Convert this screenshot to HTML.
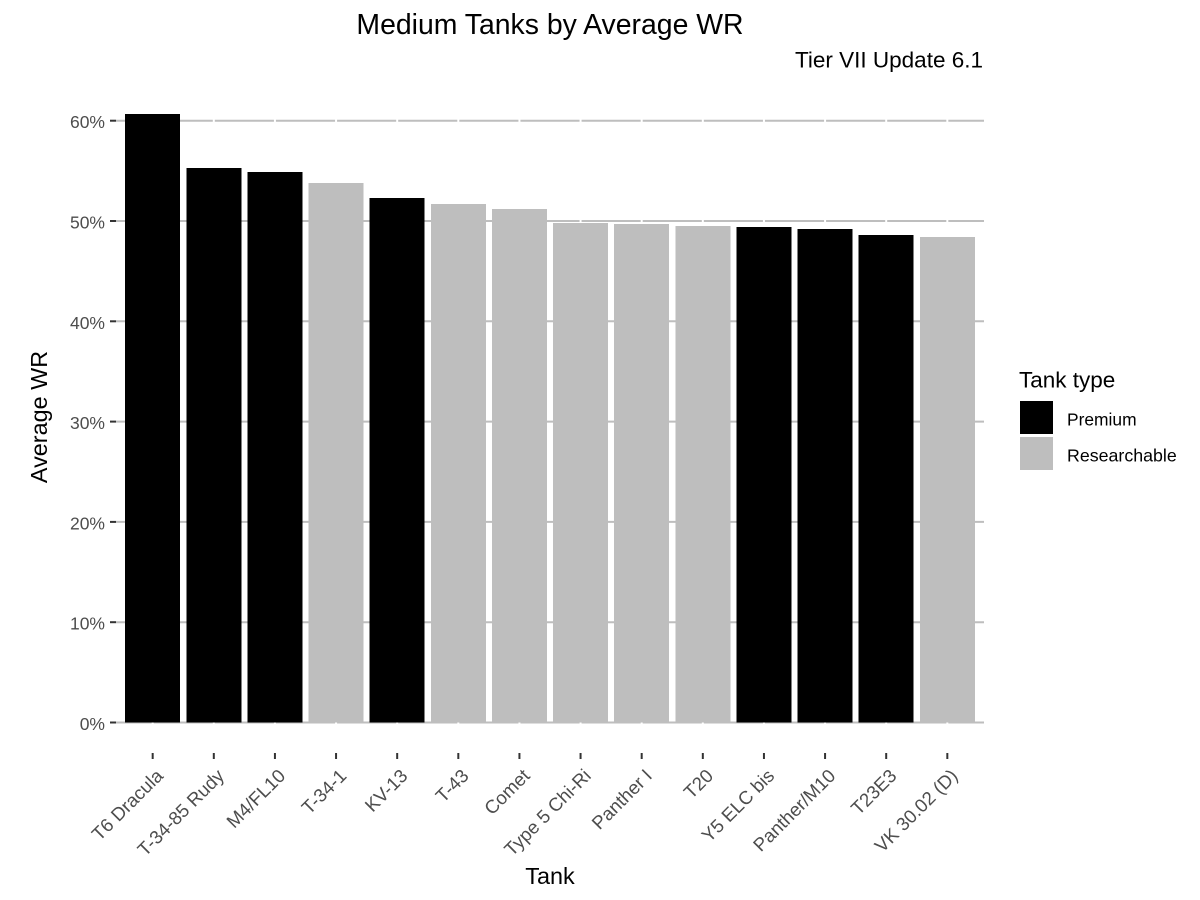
<!DOCTYPE html>
<html lang="en">
<head>
<meta charset="utf-8">
<title>Medium Tanks by Average WR</title>
<style>
  html, body { margin: 0; padding: 0; background: #fff; }
  svg { display: block; font-family: "Liberation Sans", Arial, sans-serif; }
</style>
</head>
<body>
<svg id="chart" xmlns="http://www.w3.org/2000/svg" width="1200" height="900" viewBox="0 0 1200 900">
  <rect x="0" y="0" width="1200" height="900" fill="#ffffff"/>
  <g id="grid"></g>
  <g id="bars"></g>
  <g id="y-axis"></g>
  <g id="x-axis"></g>
  <text x="550" y="34" text-anchor="middle" font-size="28.4" fill="#000">Medium Tanks by Average WR</text>
  <text x="983" y="67.5" text-anchor="end" font-size="22.5" fill="#000">Tier VII Update 6.1</text>
  <text transform="translate(47 417) rotate(-90)" text-anchor="middle" font-size="23.4" fill="#000">Average WR</text>
  <text x="550" y="884" text-anchor="middle" font-size="23.4" fill="#000">Tank</text>
  <g>
    <text x="1019" y="387.5" font-size="22.5" fill="#000">Tank type</text>
    <rect x="1020" y="401" width="33" height="33" fill="#000000"/>
    <text x="1067" y="425.5" font-size="17.4" fill="#000">Premium</text>
    <rect x="1020" y="437" width="33" height="33" fill="#bebebe"/>
    <text x="1067" y="461.5" font-size="17.8" fill="#000">Researchable</text>
  </g>
</svg>
<script>
const categories = ["T6 Dracula", "T-34-85 Rudy", "M4/FL10", "T-34-1", "KV-13", "T-43", "Comet", "Type 5 Chi-Ri", "Panther I", "T20", "Y5 ELC bis", "Panther/M10", "T23E3", "VK 30.02 (D)"];
const winRates = [60.67, 55.3, 54.9, 53.8, 52.3, 51.7, 51.2, 49.8, 49.7, 49.5, 49.4, 49.2, 48.6, 48.4];
const tankTypes = ["Premium", "Premium", "Premium", "Researchable", "Premium", "Researchable", "Researchable", "Researchable", "Researchable", "Researchable", "Premium", "Premium", "Premium", "Researchable"];
const yTicks = [0, 10, 20, 30, 40, 50, 60];

const NS = "http://www.w3.org/2000/svg";
const panelLeft = 116, panelRight = 984;
const zeroY = 722.5, pixelsPerPercent = 10.03;
const step = (panelRight - panelLeft) / (categories.length + 0.2);
const barWidth = step * 0.9;
const typeColors = { Premium: "#000000", Researchable: "#bebebe" };

function xScale(i) { return panelLeft + step * (i + 0.6); }
function yScale(v) { return zeroY - v * pixelsPerPercent; }
function make(tag, attrs, parent, content) {
  const el = document.createElementNS(NS, tag);
  for (const k in attrs) el.setAttribute(k, attrs[k]);
  if (content !== undefined) el.textContent = content;
  parent.appendChild(el);
  return el;
}

const gridG = document.getElementById("grid");
const barsG = document.getElementById("bars");
const yG = document.getElementById("y-axis");
const xG = document.getElementById("x-axis");

yTicks.forEach(function (t) {
  const line = make("line", { x1: panelLeft, x2: panelRight, y1: yScale(t), y2: yScale(t), stroke: "#bebebe", "stroke-width": 2 }, gridG);
  
  
});

categories.forEach(function (c, i) {
  const line = make("line", { x1: xScale(i), x2: xScale(i), y1: yScale(0) + 1.5, y2: yScale(60) - 40, stroke: "#ffffff", "stroke-width": 2 }, gridG);
  
  
});

yTicks.forEach(function (t) {
  const tick = make("line", { x1: 110, x2: 116, y1: yScale(t), y2: yScale(t), stroke: "#333333", "stroke-width": 2 }, yG);
  
  
  const label = make("text", { x: 105, y: yScale(t) + 7.5, "text-anchor": "end", "font-size": 17.5, fill: "#4d4d4d" }, yG, t + "%");
  
  
});

categories.forEach(function (c, i) {
  const bar = make("rect", { x: xScale(i) - barWidth / 2, y: yScale(winRates[i]), width: barWidth, height: yScale(0) - yScale(winRates[i]), fill: typeColors[tankTypes[i]], "shape-rendering": "crispEdges" }, barsG);
  
  

  const tick = make("line", { x1: xScale(i), x2: xScale(i), y1: 753, y2: 759, stroke: "#333333", "stroke-width": 2 }, xG);
  
  

  const label = make("text", { transform: "translate(" + (xScale(i) + 11.5) + " 777) rotate(-45)", "text-anchor": "end", "font-size": 18.7, fill: "#4d4d4d" }, xG, c);
  
  
});
</script>
</body>
</html>
